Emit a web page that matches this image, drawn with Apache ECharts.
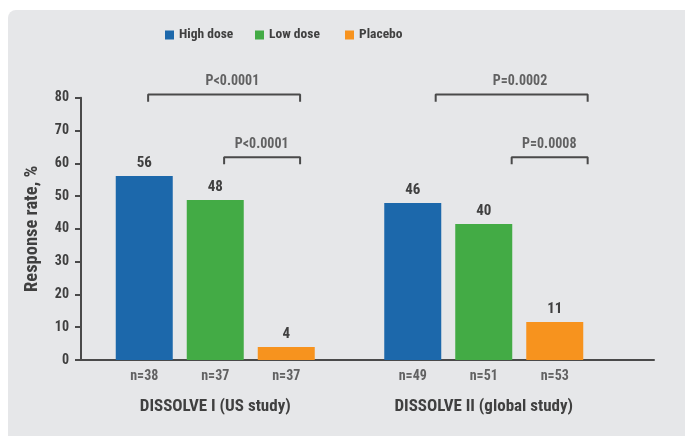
<!DOCTYPE html>
<html>
<head>
<meta charset="utf-8">
<script src="https://cdn.jsdelivr.net/npm/echarts@6/dist/echarts.min.js"></script>
<style>
html,body{margin:0;padding:0;background:#fff;}
#container1{width:685px;height:436px;}
</style>
</head>
<body>
<div id="container1"></div>
<script>
// data
var studies = ['DISSOLVE I (US study)', 'DISSOLVE II (global study)'];
var groups = ['High dose', 'Low dose', 'Placebo'];
var highDose = [56.1, 47.9];
var lowDose = [48.8, 41.5];
var placebo = [4.0, 11.6];
var highText = ['56', '46'];
var lowText = ['48', '40'];
var placeboText = ['4', '11'];
var nText = [['n=38', 'n=37', 'n=37'], ['n=49', 'n=51', 'n=53']];
var yTicks = [0, 10, 20, 30, 40, 50, 60, 70, 80];

// p-value brackets: [x from, x to, y bar, y tip, label x], x in study units (0..2)
var bracketText = ['P<0.0001', 'P<0.0001', 'P=0.0002', 'P=0.0008'];
var bracketSpan = [
    [0.25, 0.816, 81.0, 78.8, 0.564],
    [0.533, 0.816, 61.8, 59.7, 0.673],
    [1.321, 1.887, 81.0, 78.8, 1.635],
    [1.604, 1.887, 61.8, 59.7, 1.744]
];

var colors = ['#1c68ab', '#43ab45', '#f7931e'];
var txt = '#404040';
var axisCol = '#4a4a4a';
var font = '"Roboto Condensed", "Liberation Sans Narrow", "DejaVu Sans Condensed", Roboto, sans-serif';

var barW = 57, barGapPx = 14, bandW = 268.5;
var pitch = (barW + barGapPx) / bandW;
var legendLeft = [165, 255, 345];

var dom = document.getElementById('container1');
var myChart = echarts.init(dom);

function valueSeries(name, vals, labels, idx) {
    return {
        name: name,
        type: 'bar',
        xAxisIndex: 0,
        yAxisIndex: 0,
        barWidth: barW,
        barGap: (barGapPx / barW * 100) + '%',
        itemStyle: { color: colors[idx] },
        label: {
            show: true,
            position: 'top',
            distance: 5,
            color: txt,
            fontFamily: font,
            fontWeight: 'bold',
            fontSize: 15,
            formatter: function (p) { return labels[p.dataIndex]; }
        },
        data: vals
    };
}

var nPoints = [];
nText.forEach(function (row, s) {
    row.forEach(function (t, b) {
        nPoints.push({ value: [s + 0.5 + (b - 1) * pitch, 0], t: t });
    });
});

var bracketSeries = bracketSpan.map(function (b) {
    return {
        type: 'line',
        xAxisIndex: 1,
        yAxisIndex: 0,
        clip: false,
        symbol: 'none',
        silent: true,
        lineStyle: { color: axisCol, width: 2 },
        data: [[b[0], b[3]], [b[0], b[2]], [b[1], b[2]], [b[1], b[3]]]
    };
});

var legends = groups.map(function (g, i) {
    return {
        left: legendLeft[i],
        top: 28,
        padding: 0,
        icon: 'rect',
        itemWidth: 9,
        itemHeight: 9,
        textStyle: { color: txt, fontSize: 13.5, fontWeight: 'bold', fontFamily: font },
        data: [g]
    };
});

var option = {
    animation: false,
    backgroundColor: '#fff',
    textStyle: { fontFamily: font },
    graphic: [{
        type: 'rect',
        z: -10,
        shape: { x: 8, y: 10, width: 700, height: 440, r: [8, 0, 0, 0] },
        style: { fill: '#e6e7e9' }
    }],
    legend: legends,
    grid: [
        { left: 81, right: 67, top: 97.7, bottom: 76 },
        { left: 80, right: 31, top: 97.7, bottom: 76 }
    ],
    xAxis: [{
        type: 'category',
        gridIndex: 0,
        data: studies,
        axisLine: { show: false },
        axisTick: { show: false },
        axisLabel: { margin: 38, color: txt, fontSize: 17, fontWeight: 'bold', fontFamily: font }
    }, {
        type: 'value',
        gridIndex: 0,
        min: 0,
        max: 2,
        show: false
    }, {
        type: 'value',
        gridIndex: 1,
        min: 0,
        max: 1,
        axisLine: { show: true, lineStyle: { color: axisCol, width: 2 } },
        axisTick: { show: false },
        axisLabel: { show: false },
        splitLine: { show: false }
    }],
    yAxis: [{
        type: 'value',
        gridIndex: 0,
        min: 0,
        max: 80,
        interval: 10,
        name: 'Response rate, %',
        nameLocation: 'middle',
        nameGap: 39,
        nameTextStyle: { color: txt, fontSize: 18.5, fontWeight: 'bold', fontFamily: font },
        axisLine: { show: true, lineStyle: { color: axisCol, width: 2 } },
        axisTick: { show: true, length: 6, lineStyle: { color: axisCol, width: 2 } },
        axisLabel: {
            margin: 12, color: txt, fontSize: 14, fontWeight: 'bold', fontFamily: font,
            formatter: function (v) { return yTicks.indexOf(v) >= 0 ? String(v) : ''; }
        },
        splitLine: { show: false }
    }, {
        type: 'value',
        gridIndex: 1,
        show: false
    }],
    series: [
        valueSeries(groups[0], highDose, highText, 0),
        valueSeries(groups[1], lowDose, lowText, 1),
        valueSeries(groups[2], placebo, placeboText, 2),
        {
            type: 'scatter',
            xAxisIndex: 1,
            yAxisIndex: 0,
            symbolSize: 0,
            silent: true,
            clip: false,
            label: {
                show: true,
                position: 'bottom',
                distance: 9,
                color: txt,
                fontSize: 14,
                fontWeight: 'bold',
                fontFamily: font,
                formatter: function (p) { return p.data.t; }
            },
            data: nPoints
        },
        {
            type: 'scatter',
            xAxisIndex: 1,
            yAxisIndex: 0,
            symbolSize: 0,
            silent: true,
            clip: false,
            label: {
                show: true,
                position: 'top',
                distance: 6,
                color: txt,
                fontSize: 14,
                fontWeight: 'bold',
                fontFamily: font,
                formatter: function (p) { return p.data.t; }
            },
            data: bracketSpan.map(function (b, i) {
                return { value: [b[4], b[2]], t: bracketText[i] };
            })
        }
    ].concat(bracketSeries)
};

if (option && typeof option === 'object') {
    myChart.setOption(option, true);
}
</script>
</body>
</html>
